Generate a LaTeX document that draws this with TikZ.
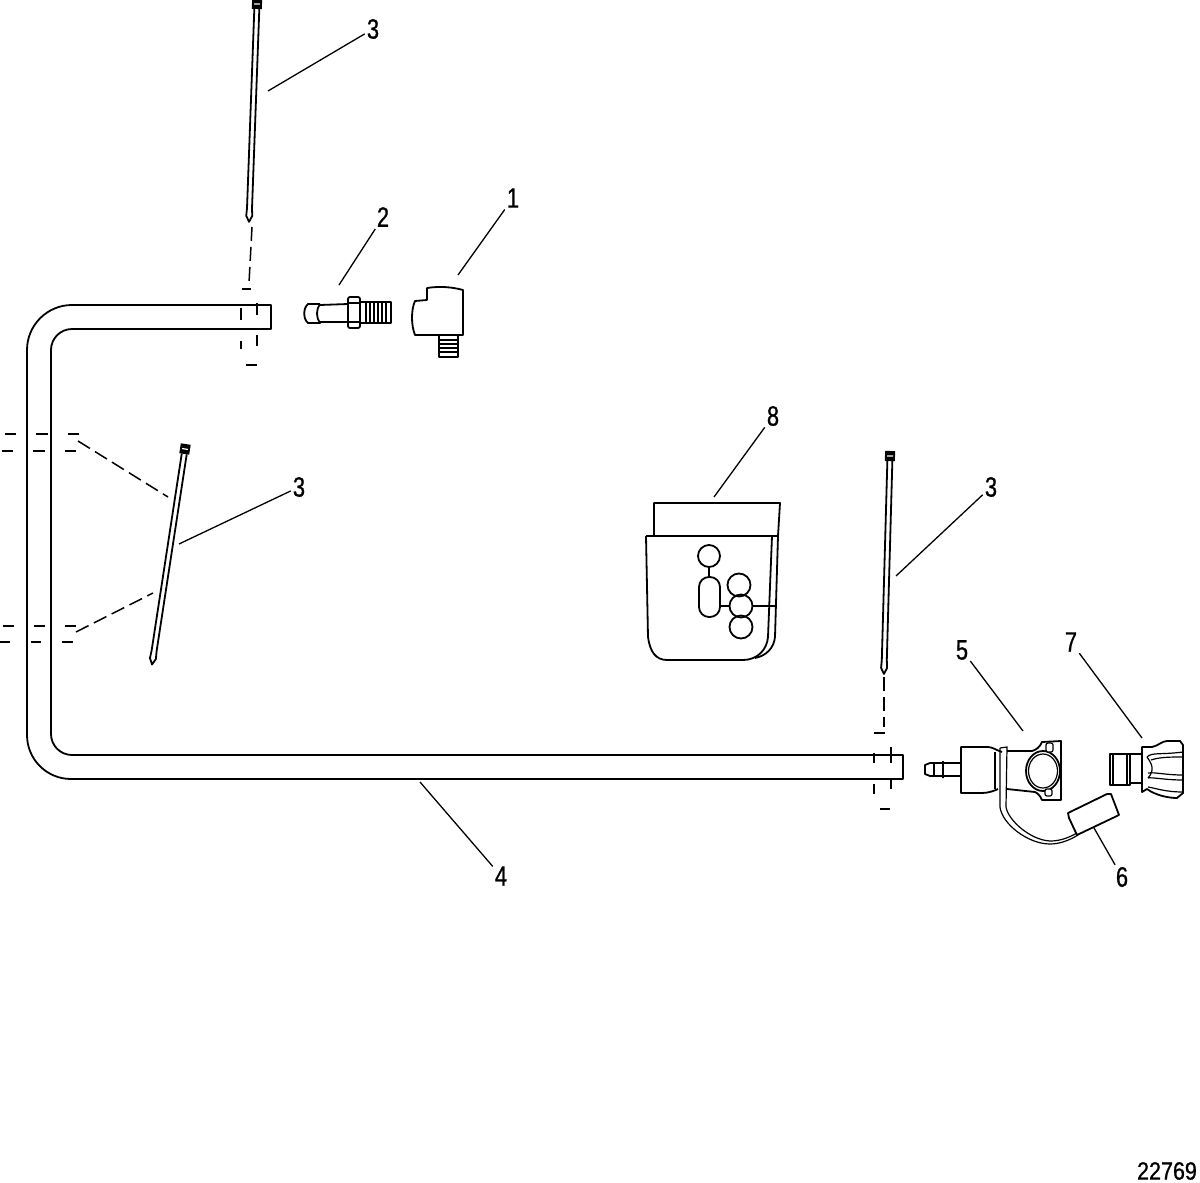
\documentclass[tikz,border=0pt]{standalone}
\usepackage{fontspec}
\newfontfamily\calloutfont[FakeStretch=0.78,FakeBold=0.8]{Liberation Sans}
\newfontfamily\drawingfont[FakeStretch=0.86,FakeBold=0.8]{Liberation Sans}
\newcommand{\lenstrap}{218}
\tikzset{
    x=1pt, y=-1pt,
    part/.style={draw, line width=1.8pt, line join=round},
    thinpart/.style={draw, line width=1.2pt},
    leader/.style={draw, line width=1.3pt},
    hidden/.style={line width=1.5pt, dash pattern=on 14pt off 6pt},
    tick/.style={line width=1.5pt},
    callout/.style={font=\calloutfont\fontsize{28}{28}\selectfont, inner sep=2pt},
    drawingno/.style={font=\drawingfont\fontsize{25}{25}\selectfont, inner sep=0pt}
}
\newcommand{\strap}[2]{
    \begin{scope}[shift={#1}, rotate=#2]
        \draw[part] (-2.5,5) -- (-2.5,\lenstrap-14) -- (-3,\lenstrap-6) -- (0,\lenstrap) -- (3,\lenstrap-6) -- (2.5,\lenstrap-14) -- (2.5,5);
        \fill (-5,-5) rectangle (5,5);
        \draw[white, line width=1.2pt] (-3,0) -- (3,0);
    \end{scope}
}
\begin{document}
\begin{tikzpicture}
    \useasboundingbox (0,0) rectangle (1200,1183);

    % hose
    \draw[part] (271,305) -- (72,305) arc[start angle=90, end angle=180, x radius=45, y radius=-45]
        -- (27,735) arc[start angle=180, end angle=270, x radius=44, y radius=-44]
        -- (903,779) -- (903,755) -- (72,755)
        arc[start angle=270, end angle=180, x radius=21, y radius=-21]
        -- (51,350) arc[start angle=180, end angle=90, x radius=21, y radius=-21]
        -- (271,329) -- cycle;

    % cable ties
    \strap{(257,4)}{-2.1}
    \strap{(185,449)}{-8.7}
    \strap{(890,456)}{-1.6}

    % centre lines
    \draw[hidden] (252,227) -- (249,283);
    \draw[tick] (242,289) -- (251,289) (241,308) -- (241,320) (257,303) -- (257,315)
        (241,341) -- (241,349) (257,335) -- (257,346) (246,365) -- (257,365);
    \draw[hidden] (884,677) -- (884,727);
    \draw[tick] (874,733) -- (885,733) (874,753) -- (874,763) (891,747) -- (891,763)
        (874,784) -- (874,794) (891,780) -- (891,789) (880,809) -- (890,809);
    \draw[hidden] (78,441) -- (168,497);
    \draw[hidden] (76,632) -- (153,593);
    \draw[tick] (5,434) -- (16,434) (36,434) -- (48,434) (68,434) -- (79,434)
        (2,451) -- (13,451) (33,451) -- (45,451) (65,451) -- (76,451)
        (3,626) -- (14,626) (34,626) -- (45,626) (65,626) -- (76,626)
        (0,642) -- (10,642) (31,642) -- (41,642) (62,642) -- (73,642);

    % fitting 2
    \draw[part] (320,304) -- (308,304) .. controls (303,308) and (303,319) .. (308,323) -- (320,323)
        .. controls (316,318) and (316,309) .. (320,304);
    \draw[part] (320,305) -- (348,304) (320,322) -- (348,322);
    \draw[part, rounded corners=2pt] (348,297) rectangle (360,328);
    \draw[thinpart] (348,303) -- (360,303) (348,322) -- (360,322);
    \draw[part] (360,302) -- (391,302) -- (391,323) -- (360,323);
    \foreach \xrib in {366,370,...,388}
        \draw[thinpart] (\xrib,302) -- (\xrib,323);

    % elbow 1
    \draw[part] (427,288) .. controls (440,286) and (452,287) .. (463,290) -- (463,335) -- (415,335)
        .. controls (411,325) and (411,310) .. (415,301) -- (427,300) -- cycle;
    \draw[part] (439,336) -- (439,357) -- (458,357) -- (458,336);
    \foreach \yrib in {340,344,...,354}
        \draw[thinpart] (439,\yrib) -- (458,\yrib);

    % bracket 8
    \draw[part] (654,535) -- (654,503) -- (780,503) -- (778,536);
    \draw[part] (646,536) -- (778,536) -- (775,637) .. controls (774,648) and (766,656) .. (755,658);
    \draw[part] (646,536) -- (648,637) .. controls (650,652) and (656,660) .. (667,660) -- (743,660)
        .. controls (757,660) and (767,650) .. (768,637) -- (772,536);
    \draw[part] (709,556) circle[radius=11];
    \draw[part] (709,567) -- (709,577);
    \draw[part, rounded corners=10pt] (699,577) rectangle (720,617);
    \draw[part] (739,585) circle[radius=11.5];
    \draw[part] (741,606) circle[radius=11.5];
    \draw[part] (741,627) circle[radius=11.5];
    \draw[part] (720,606) -- (729,606) (752,606) -- (777,606);

    % coupling 5 and its cap 6
    \draw[part] (943,763) -- (930,763) -- (925,765) -- (925,774) -- (930,776) -- (943,776)
        (934,763) -- (934,776) (943,761) -- (943,778) (943,763) -- (961,763) (943,776) -- (961,776);
    \draw[part] (1002,752) .. controls (996,750) and (992,747) .. (988,747) -- (961,747) -- (961,793) -- (982,793)
        .. controls (988,793) and (994,791) .. (998,789);
    \draw[part] (995,752) -- (995,789);
    \draw[thinpart] (1000,748) -- (1007,747) -- (1006,807) .. controls (1008,820) and (1030,840) .. (1050,841)
        .. controls (1060,841) and (1068,838) .. (1077,833);
    \draw[thinpart] (1000,748) -- (1000,807) .. controls (1002,824) and (1028,844) .. (1050,844)
        .. controls (1060,844) and (1070,840) .. (1078,835);
    \draw[part] (1007,751) -- (1032,751) .. controls (1036,750) and (1040,747) .. (1042,742)
        -- (1061,741) -- (1061,800) -- (1042,800) .. controls (1040,795) and (1037,793) .. (1035,792) -- (1007,789);
    \draw[part, fill=white] (1043,771) ellipse[x radius=17, y radius=20];
    \draw[thinpart] (1043,771) ellipse[x radius=14.5, y radius=17];
    \draw[thinpart, fill=white, rounded corners=2pt] (1046,743) rectangle (1053,752);
    \draw[thinpart, fill=white, rounded corners=2pt] (1045,789) rectangle (1052,796);
    \draw[part] (1068,813) -- (1107,794) -- (1111,794) -- (1119,815) -- (1077,835) -- (1069,818) -- cycle;

    % plug 7
    \draw[part] (1110,754) rectangle (1130,785);
    \draw[part] (1113,754) -- (1113,785);
    \draw[line width=2.8pt] (1127,754) -- (1127,785);
    \draw[part] (1130,754) -- (1142,754) (1130,783) -- (1142,783);
    \draw[part] (1142,792) -- (1142,747) -- (1152,747) .. controls (1158,746) and (1162,741) .. (1167,741)
        -- (1180,741) -- (1183,745) -- (1183,793) -- (1177,798) .. controls (1168,798) and (1155,795) .. (1147,789) -- cycle;
    \draw[thinpart] (1147,757) .. controls (1152,752) and (1160,755) .. (1183,752);
    \draw[thinpart] (1147,757) .. controls (1152,764) and (1155,770) .. (1148,778)
        (1151,760) .. controls (1160,757) and (1170,757) .. (1183,757)
        (1148,773) .. controls (1155,772) and (1165,775) .. (1183,775)
        (1148,778) .. controls (1152,777) and (1165,780) .. (1183,780)
        (1148,787) .. controls (1155,788) and (1165,792) .. (1183,792);

    % callouts
    \node[callout] (lab3top) at (373,29) {3};
    \node[callout] (lab2) at (383,217) {2};
    \node[callout] (lab1) at (513,198) {1};
    \node[callout] (lab3left) at (299,487) {3};
    \node[callout] (lab8) at (773,416) {8};
    \node[callout] (lab3right) at (991,487) {3};
    \node[callout] (lab5) at (962,650) {5};
    \node[callout] (lab7) at (1071,642) {7};
    \node[callout] (lab6) at (1122,877) {6};
    \node[callout] (lab4) at (501,876) {4};
    \node[drawingno] (drawno) at (1167,1171) {22769};

    \coordinate (end3top) at (268,91);
    \coordinate (end2) at (339,285);
    \coordinate (end1) at (458,275);
    \coordinate (end3left) at (179,544);
    \coordinate (end8) at (714,497);
    \coordinate (end3right) at (896,576);
    \coordinate (end5) at (1023,731);
    \coordinate (end7) at (1142,738);
    \coordinate (end6) at (1094,828);
    \coordinate (end4) at (420,782);

    \draw[leader] (lab3top) -- (end3top);
    \draw[leader] (lab2) -- (end2);
    \draw[leader] (lab1) -- (end1);
    \draw[leader] (lab3left) -- (end3left);
    \draw[leader] (lab8) -- (end8);
    \draw[leader] (lab3right) -- (end3right);
    \draw[leader] (lab5) -- (end5);
    \draw[leader] (lab7) -- (end7);
    \draw[leader] (lab6) -- (end6);
    \draw[leader] (lab4) -- (end4);
\end{tikzpicture}
\end{document}
